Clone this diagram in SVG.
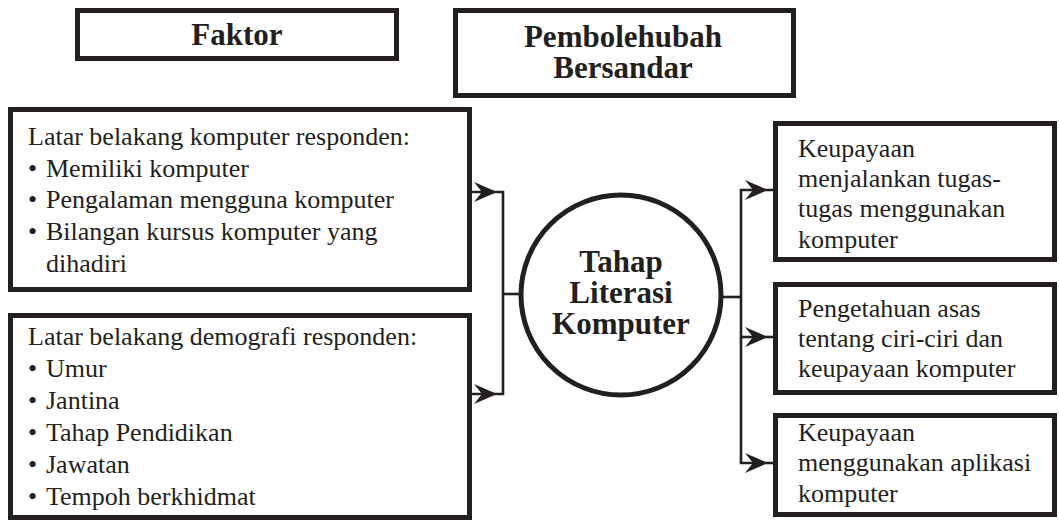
<svg xmlns="http://www.w3.org/2000/svg" xmlns:xlink="http://www.w3.org/1999/xlink" width="1059" height="521" viewBox="0 0 1059 521">
<style>
.box{fill:#fff;stroke:#231f20;stroke-width:5}
.hd{font-family:"Liberation Serif","Times New Roman",serif;font-weight:bold;font-size:31px;fill:#231f20;text-anchor:middle}
.tx{font-family:"Liberation Serif","Times New Roman",serif;font-size:26px;fill:#231f20}
.ln{fill:none;stroke:#231f20;stroke-width:2.6}
.ah{fill:#231f20}
</style>
<defs>
<path id="ah" d="M0,0 L-23,-10 L-15,0 L-23,10 Z"/>
</defs>
<rect width="1059" height="521" fill="#fff"/>
<g id="connectors">
<path class="ln" d="M472,192 H503 V394 H472"/>
<path class="ln" d="M503,294 H521"/>
<path class="ln" d="M721,297 H741"/>
<path class="ln" d="M773,190 H741 V463 H773"/>
<path class="ln" d="M741,337 H773"/>
<use xlink:href="#ah" class="ah" transform="translate(497,192)"/>
<use xlink:href="#ah" class="ah" transform="translate(497,394)"/>
<use xlink:href="#ah" class="ah" transform="translate(768,190)"/>
<use xlink:href="#ah" class="ah" transform="translate(768,337)"/>
<use xlink:href="#ah" class="ah" transform="translate(768,463)"/>
</g>
<g id="faktor">
<rect class="box" x="77.5" y="10.5" width="319" height="48"/>
<text class="hd" x="237" y="45">Faktor</text>
</g>
<g id="pembolehubah">
<rect class="box" x="455.5" y="10.5" width="338" height="85"/>
<text class="hd" x="623" y="47">Pembolehubah</text>
<text class="hd" x="623" y="78">Bersandar</text>
</g>
<g id="latar-komputer">
<rect class="box" x="10.5" y="109.5" width="459" height="180"/>
<text class="tx" x="28" y="145">Latar belakang komputer responden:</text>
<text class="tx" y="177"><tspan x="28">•</tspan><tspan x="46">Memiliki komputer</tspan></text>
<text class="tx" y="208"><tspan x="28">•</tspan><tspan x="46">Pengalaman mengguna komputer</tspan></text>
<text class="tx" y="240"><tspan x="28">•</tspan><tspan x="46">Bilangan kursus komputer yang</tspan></text>
<text class="tx" x="46" y="272">dihadiri</text>
</g>
<g id="latar-demografi">
<rect class="box" x="10.5" y="315.5" width="459" height="202"/>
<text class="tx" x="28" y="345">Latar belakang demografi responden:</text>
<text class="tx" y="377"><tspan x="28">•</tspan><tspan x="46">Umur</tspan></text>
<text class="tx" y="409"><tspan x="28">•</tspan><tspan x="46">Jantina</tspan></text>
<text class="tx" y="441"><tspan x="28">•</tspan><tspan x="46">Tahap Pendidikan</tspan></text>
<text class="tx" y="473"><tspan x="28">•</tspan><tspan x="46">Jawatan</tspan></text>
<text class="tx" y="505"><tspan x="28">•</tspan><tspan x="46">Tempoh berkhidmat</tspan></text>
</g>
<g id="tahap-literasi">
<circle class="box" cx="621" cy="295" r="100"/>
<text class="hd" x="621" y="272">Tahap</text>
<text class="hd" x="621" y="303">Literasi</text>
<text class="hd" x="621" y="334">Komputer</text>
</g>
<g id="keupayaan-tugas">
<rect class="box" x="775.5" y="123.5" width="279" height="136"/>
<text class="tx" x="798" y="157">Keupayaan</text>
<text class="tx" x="798" y="187">menjalankan tugas-</text>
<text class="tx" x="798" y="217">tugas menggunakan</text>
<text class="tx" x="798" y="248">komputer</text>
</g>
<g id="pengetahuan">
<rect class="box" x="775.5" y="284.5" width="279" height="108"/>
<text class="tx" x="798" y="317">Pengetahuan asas</text>
<text class="tx" x="798" y="347">tentang ciri-ciri dan</text>
<text class="tx" x="798" y="377">keupayaan komputer</text>
</g>
<g id="keupayaan-aplikasi">
<rect class="box" x="775.5" y="415.5" width="279" height="99"/>
<text class="tx" x="798" y="441">Keupayaan</text>
<text class="tx" x="798" y="471">menggunakan aplikasi</text>
<text class="tx" x="798" y="502">komputer</text>
</g>
</svg>
